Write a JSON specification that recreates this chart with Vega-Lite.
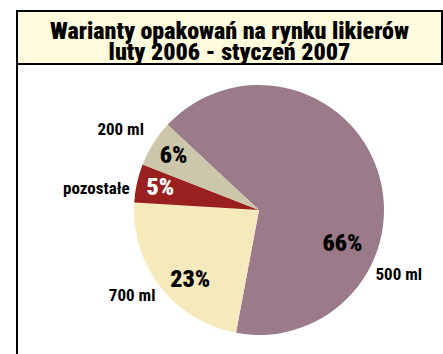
{
  "$schema": "https://vega.github.io/schema/vega-lite/v6.json",
  "bounds": "flush",
  "padding": {"left": 16, "top": 10, "right": 0, "bottom": 0},
  "background": "white",
  "spacing": 0,
  "config": {"view": {"stroke": "black", "strokeWidth": 2}},
  "vconcat": [
    {
      "width": 425,
      "height": 53,
      "view": {"fill": "#FFFBDC", "stroke": "black", "strokeWidth": 2},
      "data": {"values": [{"title": ["Warianty opakowań na rynku likierów", "luty 2006 - styczeń 2007"]}]},
      "mark": {"type": "text", "font": "Roboto Condensed, Roboto, sans-serif", "fontSize": 24, "fontWeight": 900, "lineHeight": 21, "color": "black", "align": "center", "baseline": "middle", "dy": -6},
      "encoding": {"text": {"field": "title", "type": "nominal"}}
    },
    {
      "width": 484,
      "height": 292,
      "view": {"fill": "white", "stroke": "black", "strokeWidth": 2},
      "data": {"values": [
        {"label": "500 ml", "share": 0.66, "ord": 1},
        {"label": "700 ml", "share": 0.23, "ord": 2},
        {"label": "pozostałe", "share": 0.05, "ord": 3},
        {"label": "200 ml", "share": 0.06, "ord": 4}
      ]},
      "encoding": {
        "theta": {"field": "share", "type": "quantitative", "stack": true, "scale": {"range": [5.463, 11.746]}},
        "order": {"field": "ord", "type": "quantitative"},
        "detail": {"field": "label", "type": "nominal"}
      },
      "layer": [
        {
          "mark": {"type": "arc", "outerRadius": 125},
          "encoding": {
            "color": {"field": "label", "type": "nominal", "legend": null,
              "scale": {"domain": ["500 ml", "700 ml", "pozostałe", "200 ml"], "range": ["#9B7B89", "#F6E9BC", "#9A1F1F", "#CCC7AB"]}}
          }
        },
        {
          "mark": {"type": "text", "radius": 101, "font": "Roboto Condensed, Roboto, sans-serif", "fontSize": 24, "fontWeight": 900, "align": "center", "baseline": "middle"},
          "encoding": {
            "text": {"condition": {"test": "datum.label === '500 ml' || datum.label === '700 ml'", "value": ""}, "field": "share", "type": "quantitative", "format": ".0%"},
            "color": {"condition": {"test": "datum.label === 'pozostałe'", "value": "white"}, "value": "black"}
          }
        },
        {
          "mark": {"type": "text", "radius": 98, "thetaOffset": -0.13, "font": "Roboto Condensed, Roboto, sans-serif", "fontSize": 24, "fontWeight": 900, "align": "center", "baseline": "middle", "color": "black"},
          "encoding": {
            "text": {"condition": {"test": "datum.label !== '700 ml'", "value": ""}, "field": "share", "type": "quantitative", "format": ".0%"}
          }
        },
        {
          "mark": {"type": "text", "radius": 90, "thetaOffset": 0.70, "font": "Roboto Condensed, Roboto, sans-serif", "fontSize": 24, "fontWeight": 900, "align": "center", "baseline": "middle", "color": "black"},
          "encoding": {
            "text": {"condition": {"test": "datum.label !== '500 ml'", "value": ""}, "field": "share", "type": "quantitative", "format": ".0%"}
          }
        },
        {
          "mark": {"type": "text", "radius": 160, "thetaOffset": -0.035, "font": "Roboto Condensed, Roboto, sans-serif", "fontSize": 17, "fontWeight": "bold", "align": "center", "baseline": "middle", "color": "black"},
          "encoding": {
            "text": {"condition": {"test": "datum.label !== '200 ml'", "value": ""}, "field": "label", "type": "nominal"}
          }
        },
        {
          "mark": {"type": "text", "radius": 164, "thetaOffset": -0.087, "font": "Roboto Condensed, Roboto, sans-serif", "fontSize": 17, "fontWeight": "bold", "align": "center", "baseline": "middle", "color": "black"},
          "encoding": {
            "text": {"condition": {"test": "datum.label !== 'pozostałe'", "value": ""}, "field": "label", "type": "nominal"}
          }
        },
        {
          "mark": {"type": "text", "radius": 153, "thetaOffset": 0.07, "font": "Roboto Condensed, Roboto, sans-serif", "fontSize": 17, "fontWeight": "bold", "align": "center", "baseline": "middle", "color": "black"},
          "encoding": {
            "text": {"condition": {"test": "datum.label !== '700 ml'", "value": ""}, "field": "label", "type": "nominal"}
          }
        },
        {
          "mark": {"type": "text", "radius": 154, "thetaOffset": 0.75, "font": "Roboto Condensed, Roboto, sans-serif", "fontSize": 17, "fontWeight": "bold", "align": "center", "baseline": "middle", "color": "black"},
          "encoding": {
            "text": {"condition": {"test": "datum.label !== '500 ml'", "value": ""}, "field": "label", "type": "nominal"}
          }
        }
      ]
    }
  ]
}
